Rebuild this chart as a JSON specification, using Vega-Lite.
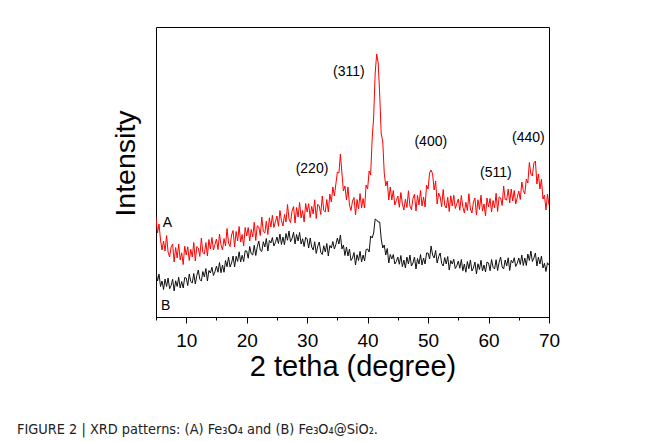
{
  "$schema": "https://vega.github.io/schema/vega-lite/v6.json",
  "width": 393,
  "height": 290,
  "autosize": "none",
  "padding": {"left": 156, "top": 27, "right": 108, "bottom": 125},
  "background": "#ffffff",
  "config": {
    "view": {"stroke": "#000000", "strokeWidth": 1},
    "font": "Liberation Sans"
  },
  "title": {
    "text": "FIGURE 2 | XRD patterns: (A) Fe₃O₄ and (B) Fe₃O₄@SiO₂.",
    "orient": "bottom",
    "anchor": "start",
    "frame": "group",
    "dx": -139,
    "offset": 42,
    "font": "DejaVu Sans Condensed, Liberation Sans, sans-serif",
    "fontSize": 14.4,
    "fontWeight": "normal",
    "color": "#222222"
  },
  "datasets": {
    "xrd": [
      {"t":5,"a":100,"b":45},{"t":5.25,"a":84,"b":36},{"t":5.5,"a":93,"b":43},{"t":5.75,"a":77,"b":30.5},
      {"t":6,"a":67,"b":36},{"t":6.25,"a":76,"b":27.5},{"t":6.5,"a":66,"b":38},{"t":6.75,"a":81.5,"b":30.5},
      {"t":7,"a":65,"b":39},{"t":7.25,"a":60,"b":28.25},{"t":7.5,"a":70,"b":31.5},{"t":7.75,"a":73,"b":37.75},
      {"t":8,"a":55,"b":26},{"t":8.25,"a":69.5,"b":36.25},{"t":8.5,"a":59,"b":30.5},{"t":8.75,"a":73,"b":39.75},
      {"t":9,"a":57,"b":29},{"t":9.25,"a":64.25,"b":35.5},{"t":9.5,"a":52.5,"b":29},{"t":9.75,"a":70.75,"b":39.5},
      {"t":10,"a":62,"b":39},{"t":10.25,"a":70.25,"b":31.5},{"t":10.5,"a":56.5,"b":43},{"t":10.75,"a":67.75,"b":35.5},
      {"t":11,"a":60,"b":34},{"t":11.25,"a":74.5,"b":43.5},{"t":11.5,"a":56,"b":33},{"t":11.75,"a":70.5,"b":41.5},
      {"t":12,"a":69,"b":47},{"t":12.25,"a":60.5,"b":37.5},{"t":12.5,"a":79,"b":36},{"t":12.75,"a":64.5,"b":45.5},
      {"t":13,"a":63,"b":40},{"t":13.25,"a":74.5,"b":48.5},{"t":13.5,"a":61,"b":36},{"t":13.75,"a":77.5,"b":46.5},
      {"t":14,"a":68,"b":44},{"t":14.25,"a":79.5,"b":49.75},{"t":14.5,"a":67,"b":41.5},{"t":14.75,"a":72.5,"b":45.25},
      {"t":15,"a":78,"b":51},{"t":15.25,"a":67.5,"b":44.75},{"t":15.5,"a":83,"b":54.5},{"t":15.75,"a":72.5,"b":44.25},
      {"t":16,"a":67,"b":52},{"t":16.25,"a":78.5,"b":44.75},{"t":16.5,"a":71,"b":56.5},{"t":16.75,"a":88.5,"b":50.25},
      {"t":17,"a":74,"b":60},{"t":17.25,"a":70.5,"b":50},{"t":17.5,"a":82,"b":54},{"t":17.75,"a":86.5,"b":61},
      {"t":18,"a":70,"b":50},{"t":18.25,"a":85.5,"b":60.75},{"t":18.5,"a":76,"b":55.5},{"t":18.75,"a":90.5,"b":65.25},
      {"t":19,"a":75,"b":55},{"t":19.25,"a":82.5,"b":61.75},{"t":19.5,"a":71,"b":55.5},{"t":19.75,"a":89.5,"b":66.25},
      {"t":20,"a":81,"b":66},{"t":20.25,"a":89.5,"b":58.75},{"t":20.5,"a":76,"b":70.5},{"t":20.75,"a":87.5,"b":63.25},
      {"t":21,"a":80,"b":62},{"t":21.25,"a":94.75,"b":71.75},{"t":21.5,"a":76.5,"b":61.5},{"t":21.75,"a":91.25,"b":70.25},
      {"t":22,"a":90,"b":76},{"t":22.25,"a":81.5,"b":66.75},{"t":22.5,"a":100,"b":65.5},{"t":22.75,"a":85.5,"b":75.25},
      {"t":23,"a":84,"b":70},{"t":23.25,"a":95.75,"b":78.5},{"t":23.5,"a":82.5,"b":66},{"t":23.75,"a":99.25,"b":76.5},
      {"t":24,"a":90,"b":74},{"t":24.25,"a":101.75,"b":79.5},{"t":24.5,"a":89.5,"b":71},{"t":24.75,"a":95.25,"b":74.5},
      {"t":25,"a":101,"b":80},{"t":25.25,"a":90.75,"b":73.5},{"t":25.5,"a":106.5,"b":83},{"t":25.75,"a":96.25,"b":72.5},
      {"t":26,"a":91,"b":80},{"t":26.25,"a":102.5,"b":72.25},{"t":26.5,"a":95,"b":83.5},{"t":26.75,"a":112.5,"b":76.75},
      {"t":27,"a":98,"b":86},{"t":27.25,"a":94.5,"b":75.25},{"t":27.5,"a":106,"b":78.5},{"t":27.75,"a":110.5,"b":84.75},
      {"t":28,"a":94,"b":73},{"t":28.25,"a":109.5,"b":82.5},{"t":28.5,"a":100,"b":76},{"t":28.75,"a":114.5,"b":84.5},
      {"t":29,"a":99,"b":73},{"t":29.25,"a":106.5,"b":78.25},{"t":29.5,"a":95,"b":70.5},{"t":29.75,"a":113.5,"b":79.75},
      {"t":30,"a":105,"b":78},{"t":30.25,"a":113.25,"b":69},{"t":30.5,"a":99.5,"b":79},{"t":30.75,"a":110.75,"b":70},
      {"t":31,"a":103,"b":67},{"t":31.25,"a":117.25,"b":75.25},{"t":31.5,"a":98.5,"b":63.5},{"t":31.75,"a":112.75,"b":70.75},
      {"t":32,"a":111,"b":75},{"t":32.25,"a":102.5,"b":64.75},{"t":32.5,"a":121,"b":62.5},{"t":32.75,"a":106.5,"b":71.25},
      {"t":33,"a":105,"b":65},{"t":33.25,"a":117.5,"b":73.5},{"t":33.5,"a":105,"b":61},{"t":33.75,"a":123,"b":71.5},
      {"t":34,"a":115,"b":69},{"t":34.25,"a":130,"b":75.5},{"t":34.5,"a":121,"b":68},{"t":34.75,"a":133,"b":72.5},
      {"t":35,"a":145,"b":79},{"t":35.25,"a":144,"b":73},{"t":35.5,"a":163,"b":82},{"t":35.75,"a":144,"b":68},
      {"t":36,"a":126,"b":72},{"t":36.25,"a":131,"b":61.5},{"t":36.5,"a":117,"b":70},{"t":36.75,"a":130,"b":61},
      {"t":37,"a":112,"b":68},{"t":37.25,"a":106.5,"b":56.5},{"t":37.5,"a":116,"b":59},{"t":37.75,"a":119.5,"b":64.5},
      {"t":38,"a":102,"b":52},{"t":38.25,"a":117.5,"b":62.25},{"t":38.5,"a":108,"b":56.5},{"t":38.75,"a":123.5,"b":65.75},
      {"t":39,"a":109,"b":55},{"t":39.25,"a":118.5,"b":62},{"t":39.5,"a":109,"b":56},{"t":39.75,"a":132,"b":67.5},
      {"t":40,"a":128,"b":68},{"t":40.25,"a":146,"b":65},{"t":40.5,"a":142,"b":81},{"t":40.75,"a":178,"b":79},
      {"t":41,"a":200,"b":84},{"t":41.25,"a":244,"b":98},{"t":41.5,"a":263,"b":97},{"t":41.75,"a":254,"b":95},
      {"t":42,"a":222,"b":95},{"t":42.25,"a":183,"b":78},{"t":42.5,"a":176,"b":69},{"t":42.75,"a":144,"b":72},
      {"t":43,"a":131,"b":62},{"t":43.25,"a":136,"b":68.5},{"t":43.5,"a":117,"b":54},{"t":43.75,"a":130,"b":62.5},
      {"t":44,"a":117,"b":58},{"t":44.25,"a":126.5,"b":62.5},{"t":44.5,"a":112,"b":53},{"t":44.75,"a":116.5,"b":55.5},
      {"t":45,"a":121,"b":60},{"t":45.25,"a":109.75,"b":52.75},{"t":45.5,"a":124.5,"b":61.5},{"t":45.75,"a":113.25,"b":50.25},
      {"t":46,"a":107,"b":57},{"t":46.25,"a":117.75,"b":49},{"t":46.5,"a":109.5,"b":60},{"t":46.75,"a":126.25,"b":53},
      {"t":47,"a":111,"b":62},{"t":47.25,"a":107.25,"b":51},{"t":47.5,"a":118.5,"b":54},{"t":47.75,"a":122.75,"b":60},
      {"t":48,"a":106,"b":48},{"t":48.25,"a":121.5,"b":58.5},{"t":48.5,"a":112,"b":53},{"t":48.75,"a":126.5,"b":62.5},
      {"t":49,"a":111,"b":52},{"t":49.25,"a":120,"b":59},{"t":49.5,"a":110,"b":53},{"t":49.75,"a":132,"b":64},
      {"t":50,"a":128,"b":64},{"t":50.25,"a":144,"b":58},{"t":50.5,"a":147,"b":71},{"t":50.75,"a":143,"b":62},
      {"t":51,"a":127,"b":59},{"t":51.25,"a":136,"b":66.5},{"t":51.5,"a":113,"b":54},{"t":51.75,"a":124,"b":60.5},
      {"t":52,"a":120,"b":64},{"t":52.25,"a":110.25,"b":53.5},{"t":52.5,"a":127.5,"b":51},{"t":52.75,"a":111.75,"b":59.5},
      {"t":53,"a":109,"b":53},{"t":53.25,"a":119.75,"b":60.5},{"t":53.5,"a":105.5,"b":47},{"t":53.75,"a":121.25,"b":56.5},
      {"t":54,"a":111,"b":53},{"t":54.25,"a":121.75,"b":57.75},{"t":54.5,"a":108.5,"b":48.5},{"t":54.75,"a":113.25,"b":51.25},
      {"t":55,"a":118,"b":56},{"t":55.25,"a":106.75,"b":48.75},{"t":55.5,"a":121.5,"b":57.5},{"t":55.75,"a":110.25,"b":46.25},
      {"t":56,"a":104,"b":53},{"t":56.25,"a":114.75,"b":44.75},{"t":56.5,"a":106.5,"b":55.5},{"t":56.75,"a":123.25,"b":48.25},
      {"t":57,"a":108,"b":57},{"t":57.25,"a":104,"b":46},{"t":57.5,"a":115,"b":49},{"t":57.75,"a":119,"b":55},
      {"t":58,"a":102,"b":43},{"t":58.25,"a":117.25,"b":53.25},{"t":58.5,"a":107.5,"b":47.5},{"t":58.75,"a":121.75,"b":56.75},
      {"t":59,"a":106,"b":46},{"t":59.25,"a":113,"b":52},{"t":59.5,"a":101,"b":45},{"t":59.75,"a":119,"b":55},
      {"t":60,"a":110,"b":54},{"t":60.25,"a":118.5,"b":46.25},{"t":60.5,"a":105,"b":57.5},{"t":60.75,"a":116.5,"b":49.75},
      {"t":61,"a":109,"b":48},{"t":61.25,"a":123.75,"b":57.25},{"t":61.5,"a":105.5,"b":46.5},{"t":61.75,"a":120.25,"b":54.75},
      {"t":62,"a":119,"b":60},{"t":62.25,"a":111.5,"b":50},{"t":62.5,"a":131,"b":48},{"t":62.75,"a":117.5,"b":57},
      {"t":63,"a":117,"b":51},{"t":63.25,"a":128,"b":59.25},{"t":63.5,"a":114,"b":46.5},{"t":63.75,"a":128,"b":56.75},
      {"t":64,"a":116,"b":54},{"t":64.25,"a":126.5,"b":59.25},{"t":64.5,"a":113,"b":50.5},{"t":64.75,"a":119.5,"b":53.75},
      {"t":65,"a":126,"b":59},{"t":65.25,"a":117.5,"b":52.5},{"t":65.5,"a":135,"b":62},{"t":65.75,"a":126.5,"b":51.5},
      {"t":66,"a":123,"b":59},{"t":66.25,"a":138,"b":51.5},{"t":66.5,"a":134,"b":63},{"t":66.75,"a":154.5,"b":56.5},
      {"t":67,"a":143,"b":66},{"t":67.25,"a":141,"b":55.5},{"t":67.5,"a":154,"b":59},{"t":67.75,"a":156,"b":64},
      {"t":68,"a":133,"b":51},{"t":68.25,"a":143,"b":60},{"t":68.5,"a":128,"b":53},{"t":68.75,"a":138,"b":61},
      {"t":69,"a":118,"b":49},{"t":69.25,"a":122,"b":53.75},{"t":69.5,"a":107,"b":45.5},{"t":69.75,"a":123,"b":54.25},
      {"t":70,"a":112,"b":52}
    ],
    "labels": [
      {"label":"(311)","t":36.9,"v":244.7},
      {"label":"(220)","t":30.8,"v":147.7},
      {"label":"(400)","t":50.45,"v":174.7},
      {"label":"(511)","t":61.2,"v":143.7},
      {"label":"(440)","t":66.6,"v":179.3},
      {"label":"A","t":6.9,"v":93.7},
      {"label":"B","t":6.6,"v":11}
    ]
  },
  "encoding": {
    "x": {
      "field": "t",
      "type": "quantitative",
      "scale": {"domain": [5, 70], "nice": false, "zero": false},
      "axis": {
        "values": [5,10,15,20,25,30,35,40,45,50,55,60,65,70],
        "labelExpr": "datum.value % 10 === 0 ? datum.label : ''",
        "labelOverlap": false,
        "labelFlush": false,
        "tickSize": {"condition": {"test": "datum.value % 10 === 0", "value": 6}, "value": 3},
        "tickColor": "#000000",
        "domainColor": "#000000",
        "labelColor": "#000000",
        "labelFontSize": 19,
        "labelPadding": 8,
        "grid": false,
        "title": "2 tetha (degree)",
        "titleFontSize": 29,
        "titleFontWeight": "normal",
        "titleColor": "#000000",
        "titlePadding": 2
      }
    }
  },
  "layer": [
    {
      "data": {"name": "xrd"},
      "mark": {"type": "line", "color": "#ff0000", "strokeWidth": 1, "clip": true},
      "encoding": {
        "y": {
          "field": "a",
          "type": "quantitative",
          "scale": {"domain": [0, 290], "nice": false, "zero": false},
          "axis": {
            "title": "Intensity",
            "labels": false,
            "ticks": false,
            "domain": false,
            "grid": false,
            "titleFontSize": 28.5,
            "titleFontWeight": "normal",
            "titleColor": "#000000",
            "titlePadding": 16,
            "titleY": 136
          }
        }
      }
    },
    {
      "data": {"name": "xrd"},
      "mark": {"type": "line", "color": "#111111", "strokeWidth": 1, "clip": true},
      "encoding": {
        "y": {"field": "b", "type": "quantitative"}
      }
    },
    {
      "data": {"name": "labels"},
      "mark": {"type": "text", "fontSize": 14, "color": "#000000", "align": "center", "baseline": "middle"},
      "encoding": {
        "y": {"field": "v", "type": "quantitative"},
        "text": {"field": "label"}
      }
    }
  ]
}
